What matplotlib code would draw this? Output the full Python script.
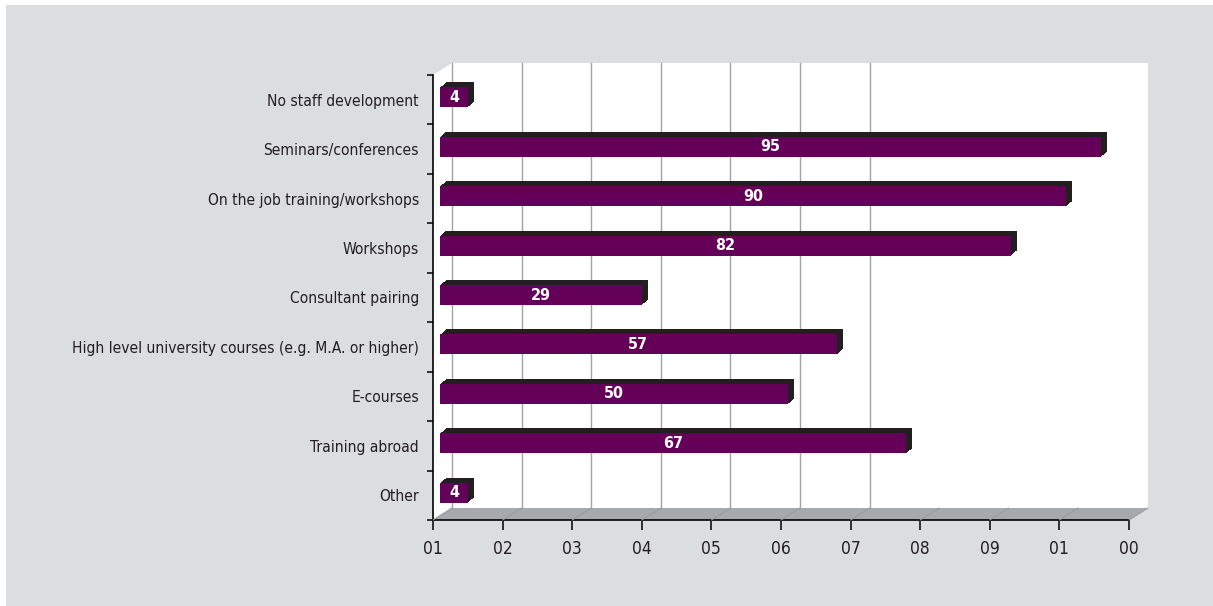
import matplotlib.pyplot as plt
import numpy as np
from matplotlib.patches import Polygon, Rectangle
from matplotlib.transforms import ScaledTranslation

categories = [
    "No staff development",
    "Seminars/conferences",
    "On the job training/workshops",
    "Workshops",
    "Consultant pairing",
    "High level university courses (e.g. M.A. or higher)",
    "E-courses",
    "Training abroad",
    "Other",
]
values = [4, 95, 90, 82, 29, 57, 50, 67, 4]
xticks = [0, 10, 20, 30, 40, 50, 60, 70, 80, 90, 100]
xtick_labels = ["01", "02", "03", "04", "05", "06", "07", "08", "09", "01", "00"]

W, H, DPI = 1213, 606, 100
BG = "#dcdddf"
PURPLE = "#650058"
DARK = "#231f20"
FLOOR = "#a7a9ac"
GRID = "#a3a3a3"
FONT = dict(family="DejaVu Sans", stretch="condensed")

# front plane of the plot box, in pixels (y from top) and the wall depth
L, R, T, B = 433, 1129, 75, 520
DX, DY = 19, 12

fig = plt.figure(figsize=(W / DPI, H / DPI), dpi=DPI, facecolor="white")


def fx(x):
    return x / W


def fy(y):
    return 1 - y / H


fig.patches.append(Rectangle((fx(6), 0), 1 - fx(6), fy(5), transform=fig.transFigure,
                             facecolor=BG, edgecolor="none", zorder=-10))

# walls and floor
back = Rectangle((fx(L + DX), fy(B - DY)), fx(R - L), fy(T) - fy(B),
                 transform=fig.transFigure, facecolor="white", edgecolor="none", zorder=-5)
left = Polygon([(fx(L), fy(T)), (fx(L + DX), fy(T - DY)), (fx(L + DX), fy(B - DY)), (fx(L), fy(B))],
               closed=True, transform=fig.transFigure, facecolor="white", edgecolor="none", zorder=-5)
floor = Polygon([(fx(L), fy(B)), (fx(R), fy(B)), (fx(R + DX), fy(B - DY)), (fx(L + DX), fy(B - DY))],
                closed=True, transform=fig.transFigure, facecolor=FLOOR, edgecolor="none", zorder=-5)
for p in (back, left, floor):
    fig.patches.append(p)

ax = fig.add_axes([fx(L), fy(B), fx(R - L), fy(T) - fy(B)])
ax.set_facecolor("none")
ax.set_xlim(0, 100)
ax.set_ylim(len(categories), 0)


def shift(dx, dy):
    return ax.transData + ScaledTranslation(dx / DPI, dy / DPI, fig.dpi_scale_trans)


# gridlines on the back wall
for t in xticks[:7]:
    ax.plot([t, t], [0, len(categories)], color=GRID, lw=1, transform=shift(DX, DY),
            clip_on=False, zorder=0)
# faint seams across the floor
for t in xticks:
    ax.annotate("", xy=(t, len(categories)), xytext=(DX, DY), textcoords="offset pixels",
                arrowprops=dict(arrowstyle="-", color="#9a9b9e", lw=0.8, shrinkA=0, shrinkB=0),
                annotation_clip=False)

ypos = np.arange(len(categories)) + 0.5
bh = 0.405
bx, by = 7, 2.5

# extruded bar bodies, then the front faces
for k in np.linspace(0.5, 6, 12):
    ax.barh(ypos, values, height=bh, color=DARK, linewidth=0,
            transform=shift(bx + k, by + k * 5 / 6), clip_on=False, zorder=2)
ax.barh(ypos, values, height=bh, color=PURPLE, linewidth=0,
        transform=shift(bx, by), clip_on=False, zorder=3)

for y, v in zip(ypos, values):
    ax.text(v / 2, y, str(v), transform=shift(bx, by), ha="center", va="center",
            color="white", fontsize=11.5, fontweight="bold", zorder=4, **FONT)

for s in ("top", "right"):
    ax.spines[s].set_visible(False)
for s in ("left", "bottom"):
    ax.spines[s].set_color("black")
    ax.spines[s].set_linewidth(1.2)

ax.set_xticks(xticks)
ax.set_xticklabels(xtick_labels, fontsize=12.5, color="#231f20", **FONT)
ax.tick_params(axis="x", direction="out", length=7.5, width=1.1, pad=7)

ax.set_yticks(np.arange(len(categories) + 1))
ax.set_yticklabels([])
ax.tick_params(axis="y", which="major", direction="out", length=4.5, width=1.1)
ax.set_yticks(ypos, minor=True)
ax.set_yticklabels(categories, minor=True, fontsize=11.2, color="#231f20", **FONT)
ax.tick_params(axis="y", which="minor", length=0, pad=10)

fig.savefig("out.png", dpi=DPI, facecolor="white")
